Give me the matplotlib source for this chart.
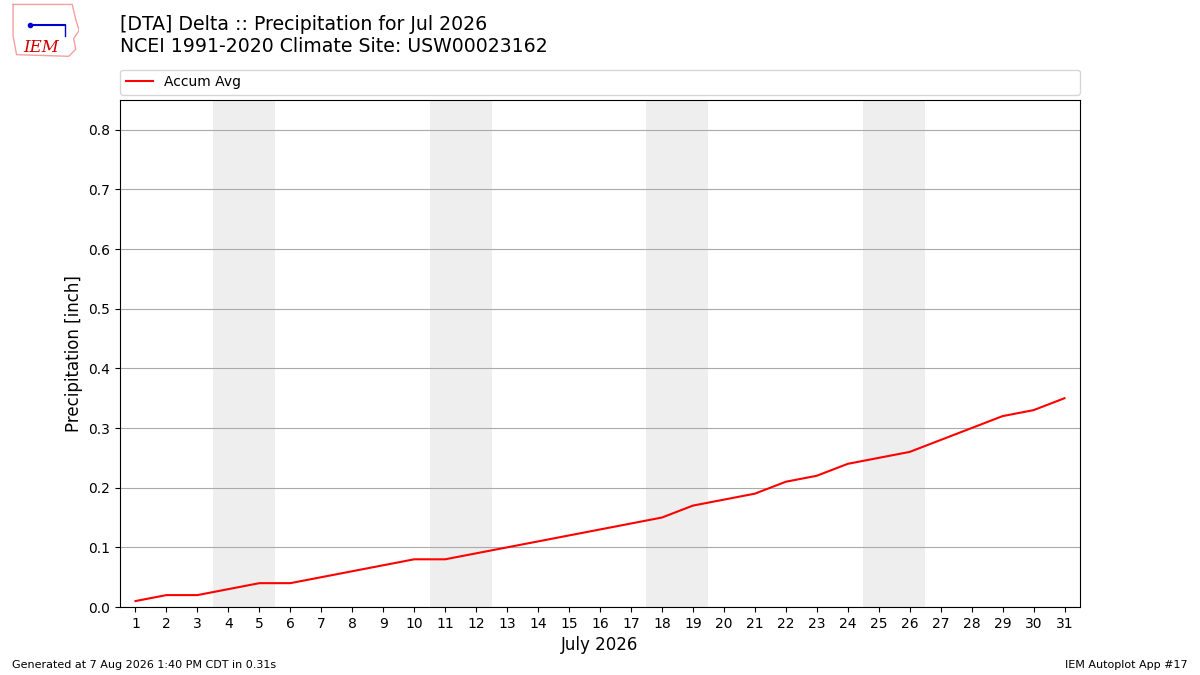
import numpy as np
import matplotlib
matplotlib.use("Agg")
import matplotlib.pyplot as plt

# daily accumulated average precipitation, July
days = list(range(1, 32))
accum_avg = [0.01, 0.02, 0.02, 0.03, 0.04, 0.04, 0.05, 0.06, 0.07, 0.08,
             0.08, 0.09, 0.10, 0.11, 0.12, 0.13, 0.14, 0.15, 0.17, 0.18,
             0.19, 0.21, 0.22, 0.24, 0.25, 0.26, 0.28, 0.30, 0.32, 0.33,
             0.35]
weekends = [(4, 5), (11, 12), (18, 19), (25, 26)]

title = "[DTA] Delta :: Precipitation for Jul 2026\nNCEI 1991-2020 Climate Site: USW00023162"

fig = plt.figure(figsize=(12, 6.75), dpi=100)
ax = fig.add_axes([0.1, 0.1007, 0.8, 0.7513])

for a, b in weekends:
    ax.axvspan(a - 0.5, b + 0.5, color="#eeeeee", zorder=0, lw=0)

ax.plot(days, accum_avg, color="red", lw=1.5, label="Accum Avg", zorder=3)

ax.set_xlim(0.5, 31.5)
ax.set_ylim(0, 0.85)
ax.set_xticks(days)
ax.set_yticks(np.arange(0, 0.81, 0.1))
ax.grid(axis="y", color="#aaaaaa", lw=0.8)
ax.set_axisbelow(True)
ax.set_xlabel("July 2026", fontsize=12)
ax.set_ylabel("Precipitation [inch]", fontsize=12)
ax.tick_params(labelsize=10)

ax.legend(loc="lower left", bbox_to_anchor=(0, 1.01, 1, 0.05), mode="expand",
          ncol=1, fontsize=10, frameon=True, borderaxespad=0)

fig.text(0.1, 0.947, title, fontsize=13.6, va="center", ha="left")

# crude IEM logo
logo = fig.add_axes([0.008, 0.915, 0.058, 0.08])
logo.plot([0.05, 0.9, 0.95, 1.0, 0.92, 0.95, 0.85, 0.1, 0.05, 0.05],
          [0.98, 0.98, 0.7, 0.5, 0.35, 0.15, 0.02, 0.05, 0.4, 0.98],
          color="#f4a0a0", lw=1)
logo.plot([0.3, 0.8], [0.6, 0.6], color="#0000cc", lw=1.5)
logo.plot([0.3], [0.6], "o", color="#0000cc", ms=3)
logo.plot([0.8, 0.8], [0.6, 0.4], color="#0000cc", lw=1)
logo.text(0.2, 0.1, "IEM", color="#cc0000", fontsize=12, family="serif",
          style="italic")
logo.set_xlim(0, 1)
logo.set_ylim(0, 1)
logo.axis("off")

fig.text(0.01, 0.01, "Generated at 7 Aug 2026 1:40 PM CDT in 0.31s", fontsize=8)
fig.text(0.99, 0.01, "IEM Autoplot App #17", fontsize=8, ha="right")

fig.savefig("out.png", dpi=100)
